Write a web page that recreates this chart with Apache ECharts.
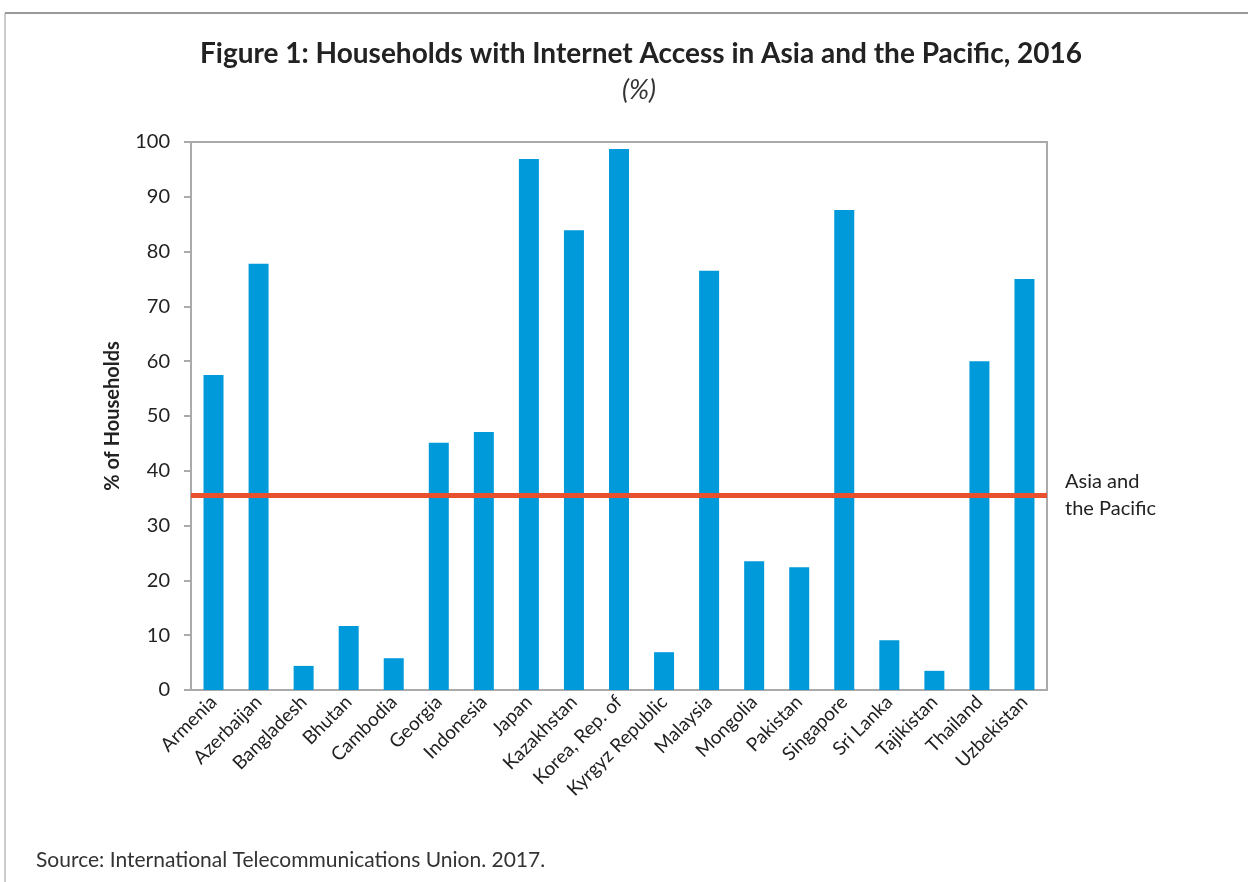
<!DOCTYPE html>
<html>
<head>
<meta charset="utf-8">
<script src="https://cdn.jsdelivr.net/npm/echarts@6/dist/echarts.min.js"></script>
<style>
  html, body { margin: 0; padding: 0; background: #fff; }
  #chart { width: 1248px; height: 882px; }
</style>
</head>
<body>
<div id="chart"></div>
<script>
// categories and values
const countries = ['Armenia', 'Azerbaijan', 'Bangladesh', 'Bhutan', 'Cambodia', 'Georgia', 'Indonesia',
  'Japan', 'Kazakhstan', 'Korea, Rep. of', 'Kyrgyz Republic', 'Malaysia', 'Mongolia', 'Pakistan',
  'Singapore', 'Sri Lanka', 'Tajikistan', 'Thailand', 'Uzbekistan'];
const households = [57.5, 77.8, 4.4, 11.7, 5.8, 45.1, 47.1, 96.9, 83.9, 98.7, 6.9, 76.5, 23.5, 22.4,
  87.6, 9.1, 3.5, 60.0, 75.0];
const regionAverage = 35.5;
const regionName = 'Asia and\nthe Pacific';

const font = 'Lato';
let chart = echarts.init(document.getElementById('chart'));

let option = {
  animation: false,
  textStyle: { fontFamily: font },
  title: [
    {
      text: 'Figure 1: Households with Internet Access in Asia and the Pacific, 2016',
      left: 636,
      textAlign: 'center',
      top: 35,
      textStyle: { fontFamily: font, fontSize: 28, fontWeight: 'bold', color: '#222' }
    },
    {
      text: '(%)',
      left: 634,
      textAlign: 'center',
      top: 72,
      textStyle: { fontFamily: font, fontSize: 27, fontWeight: 'normal', fontStyle: 'italic', color: '#333' }
    },
    {
      text: 'Source: International Telecommunications Union. 2017.',
      left: 31,
      top: 845,
      textStyle: { fontFamily: font, fontSize: 21, fontWeight: 'normal', color: '#333' }
    }
  ],
  graphic: [
    // outer frame lines (top and left)
    { type: 'line', shape: { x1: 5, y1: 13, x2: 1248, y2: 13 }, style: { stroke: '#9a9a9a', lineWidth: 2 } },
    { type: 'line', shape: { x1: 5, y1: 13, x2: 5, y2: 882 }, style: { stroke: '#9a9a9a', lineWidth: 1 } }
  ],
  grid: {
    left: 191, right: 201, top: 142, bottom: 192,
    show: true,
    borderColor: '#aaa',
    borderWidth: 2
  },
  xAxis: {
    type: 'category',
    data: countries,
    axisTick: { show: false },
    axisLine: { lineStyle: { color: '#aaa', width: 2 } },
    axisLabel: { rotate: 45, fontSize: 19, color: '#222', margin: 9, interval: 0 }
  },
  yAxis: {
    type: 'value',
    min: 0, max: 100, interval: 10,
    name: '% of Households',
    nameLocation: 'middle',
    nameGap: 68,
    nameTextStyle: { fontSize: 20, fontWeight: 'bold', color: '#222' },
    splitLine: { show: false },
    axisLine: { show: true, lineStyle: { color: '#aaa', width: 2 } },
    axisTick: { show: true, length: 7, lineStyle: { color: '#aaa', width: 2 } },
    axisLabel: { fontSize: 20, color: '#222', margin: 21 }
  },
  series: [
    {
      type: 'bar',
      data: households,
      barWidth: 20,
      itemStyle: { color: '#009ADA' },
      markLine: {
        silent: true,
        symbol: 'none',
        data: [{ yAxis: regionAverage }],
        lineStyle: { color: '#E8502E', width: 5, type: 'solid' },
        label: {
          show: true,
          position: 'end',
          formatter: regionName,
          distance: 18,
          fontSize: 20,
          lineHeight: 27,
          color: '#222',
          align: 'left'
        }
      }
    }
  ]
};
chart.setOption(option);
</script>
</body>
</html>
